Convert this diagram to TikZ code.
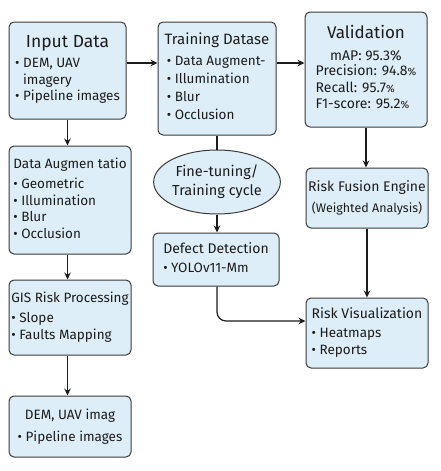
\documentclass[tikz,border=0pt]{standalone}
\usepackage{fontspec}
\setmainfont{Fira Sans}
\usetikzlibrary{arrows.meta,shapes.geometric,calc}
\definecolor{boxfill}{HTML}{DDEEF8}
\definecolor{boxline}{HTML}{3A3A3A}
\definecolor{ink}{HTML}{1C1C1C}
\newcommand{\tsz}[1]{\fontsize{#1}{#1}\selectfont}
\newcommand{\pct}{{\fontsize{10.5}{10}\selectfont\%}}
\begin{document}
\begin{tikzpicture}[x=1pt,y=-1pt,
  box/.style={draw=boxline, fill=boxfill, line width=1pt, rounded corners=5pt,
    align=center, inner sep=0pt, text=ink, font=\fontsize{13.5}{16.5}\selectfont},
  oval/.style={ellipse, draw=boxline, fill=boxfill, line width=1pt, align=center,
    inner sep=0pt, text=ink, font=\fontsize{14.5}{19}\selectfont},
  arr/.style={draw=ink, line width=1.2pt, -{Stealth[length=7pt,width=6.5pt]}},
  ln/.style={draw=ink, line width=1.2pt}]
\useasboundingbox (0,0) rectangle (441,471);
\renewcommand{\arraystretch}{1.0}

\node[box, minimum width=117pt, minimum height=97pt] (inp) at (67.5,70.5)
 {{\tsz{17.5}Input Data}\\[4pt]
  \begin{tabular}{@{}l@{}}• DEM, UAV\\\phantom{• }imagery\\• Pipeline images\end{tabular}};

\node[box, minimum width=118pt, minimum height=113pt] (train) at (217,78.5)
 {\renewcommand{\arraystretch}{1.08}\begin{tabular}{@{}l@{}}{\tsz{15}Training Datase}\\[3pt]
  \,• Data Augment-\\\,• Illumination\\\,• Blur\\\,• Occlusion\end{tabular}};

\node[box, minimum width=122pt, minimum height=115pt] (val) at (366,69.5)
 {{\tsz{17}Validation}\\[6pt]
  {\tsz{14}mAP: 95.3\%}\\[2pt]
  \begin{tabular}{@{}l@{}}\fontsize{14}{16.5}\selectfont Precision: 94.8\pct\\
  \fontsize{14}{16.5}\selectfont Recall: 95.7\pct\\
  \fontsize{14}{16.5}\selectfont F1-score: 95.2\pct\end{tabular}};

\node[box, minimum width=122pt, minimum height=108pt] (aug) at (70,200)
 {\begin{tabular}{@{}l@{}}{\tsz{13.5}Data Augmen tatio}\\[4pt]
  • Geometric\\• Illumination\\• Blur\\• Occlusion\end{tabular}};

\node[box, minimum width=122pt, minimum height=75pt] (gis) at (70,317.5)
 {\begin{tabular}{@{}l@{}}{\tsz{13.5}GIS Risk Processing}\\[4pt]
  • Slope\\• Faults Mapping\end{tabular}};

\node[box, minimum width=122pt, minimum height=61pt] (dem) at (70,426.5)
 {{\tsz{13.5}DEM, UAV imag}\\[5pt]• Pipeline images};

\node[oval, minimum width=109pt, minimum height=64pt] (ell) at (217,182)
 {Fine-tuning/\\Training cycle};

\node[box, minimum width=126pt, minimum height=53pt] (det) at (216,259.5)
 {\begin{tabular}{@{}l@{}}{\tsz{14}Defect Detection}\\[3pt]
  • YOLOv11-Mm\end{tabular}};

\node[box, minimum width=122pt, minimum height=60pt] (fus) at (367,198)
 {{\tsz{14}Risk Fusion Engine}\\[4pt]
  {\fontsize{12.5}{14}\selectfont (Weighted Analysis)}};

\node[box, minimum width=122pt, minimum height=70pt] (vis) at (367,333)
 {\begin{tabular}{@{}l@{}}{\tsz{14}Risk Visualization}\\[3pt]
  • Heatmaps\\• Reports\end{tabular}};

\draw[arr] ([yshift=7.5pt]inp.east) -- ([yshift=7.5pt]inp.east -| train.west);
\draw[arr] ([yshift=15.5pt]train.east) -- ([yshift=15.5pt]train.east -| val.west);
\draw[arr] (inp.south) -- (inp.south |- aug.north);
\draw[arr] (aug.south -| inp.south) -- (gis.north -| inp.south);
\draw[arr] (gis.south -| inp.south) -- (dem.north -| inp.south);
\draw[ln] (train.south) -- (ell.north);
\draw[arr] (ell.south) -- (ell.south |- det.north);
\draw[arr, rounded corners=9pt] (det.south -| ell.south) |- ([yshift=12pt]vis.west);
\draw[arr] (val.south) -- (val.south |- fus.north);
\draw[arr] (fus.south) -- (vis.north);
\end{tikzpicture}
\end{document}
